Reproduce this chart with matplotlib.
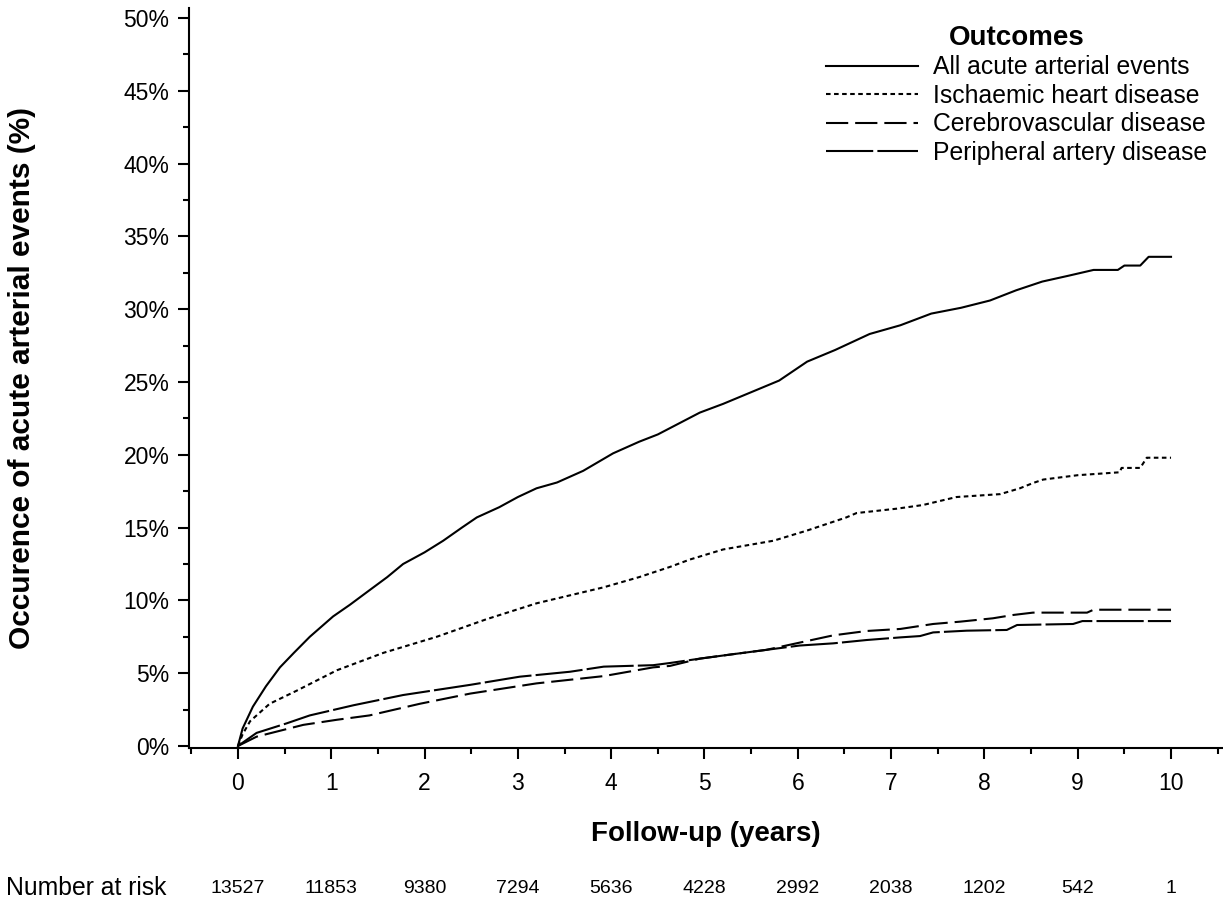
import matplotlib

matplotlib.use("Agg")
import matplotlib.pyplot as plt
from matplotlib.ticker import MultipleLocator, FuncFormatter
from matplotlib.transforms import blended_transform_factory

# Cumulative occurrence (%)
all_years = [0, 0.05, 0.16, 0.3, 0.45, 0.6, 0.77, 1.02, 1.2, 1.41, 1.6, 1.77, 2.0, 2.2,
             2.4, 2.56, 2.8, 3.0, 3.2, 3.42, 3.7, 4.02, 4.3, 4.5, 4.74, 4.95, 5.2, 5.5,
             5.8, 6.1, 6.4, 6.77, 7.1, 7.43, 7.75, 8.06, 8.34, 8.62, 8.9, 9.17, 9.43,
             9.5, 9.67, 9.76, 10.0]
all_pct = [0, 1.2, 2.7, 4.1, 5.4, 6.4, 7.5, 8.9, 9.7, 10.7, 11.6, 12.5, 13.3, 14.1,
           15.0, 15.7, 16.4, 17.1, 17.7, 18.1, 18.9, 20.1, 20.9, 21.4, 22.2, 22.9, 23.5,
           24.3, 25.1, 26.4, 27.2, 28.3, 28.9, 29.7, 30.1, 30.6, 31.3, 31.9, 32.3, 32.7,
           32.7, 33.0, 33.0, 33.6, 33.6]

ihd_years = [0, 0.05, 0.13, 0.34, 0.63, 1.06, 1.56, 2.13, 2.66, 3.2, 3.92, 4.3, 4.63,
             4.84, 5.2, 5.74, 6.1, 6.52, 6.63, 7.06, 7.34, 7.7, 8.17, 8.38, 8.52, 8.63,
             9.0, 9.45, 9.47, 9.67, 9.74, 10.0]
ihd_pct = [0, 0.8, 1.7, 2.9, 3.8, 5.2, 6.4, 7.5, 8.7, 9.8, 10.9, 11.6, 12.3, 12.8,
           13.5, 14.1, 14.8, 15.7, 16.0, 16.3, 16.55, 17.1, 17.3, 17.7, 18.06, 18.3,
           18.6, 18.8, 19.1, 19.1, 19.8, 19.8]

cvd_years = [0, 0.2, 0.7, 1.06, 1.41, 1.95, 2.49, 3.2, 3.92, 4.45, 4.63, 4.95, 5.3,
             5.66, 6.02, 6.38, 6.74, 7.1, 7.45, 7.74, 8.09, 8.31, 8.52, 9.1, 9.17, 10.0]
cvd_pct = [0, 0.64, 1.45, 1.8, 2.1, 2.9, 3.6, 4.3, 4.8, 5.4, 5.5, 6.0, 6.3, 6.6, 7.1,
           7.6, 7.9, 8.04, 8.38, 8.54, 8.77, 9.0, 9.16, 9.16, 9.36, 9.36]

pad_years = [0, 0.2, 0.52, 0.77, 1.24, 1.77, 2.49, 3.02, 3.56, 3.92, 4.45, 4.63, 4.95,
             5.3, 5.66, 6.02, 6.38, 6.74, 7.1, 7.31, 7.45, 7.81, 8.24, 8.35, 8.95, 9.05,
             10.0]
pad_pct = [0, 0.9, 1.55, 2.1, 2.8, 3.5, 4.2, 4.76, 5.1, 5.45, 5.55, 5.7, 6.0, 6.3, 6.6,
           6.9, 7.05, 7.28, 7.46, 7.55, 7.8, 7.92, 7.97, 8.31, 8.38, 8.58, 8.58]

risk_years = [0, 1, 2, 3, 4, 5, 6, 7, 8, 9, 10]
at_risk = ["13527", "11853", "9380", "7294", "5636", "4228", "2992", "2038", "1202",
           "542", "1"]

plt.rcParams["font.family"] = ["Liberation Sans", "DejaVu Sans"]
plt.rcParams["lines.scale_dashes"] = False

fig = plt.figure(figsize=(12.23, 9.11), dpi=100)
ax = fig.add_axes([0.1545, 0.1789, 0.8455, 0.8123])

lw = 1.5
ax.plot(all_years, all_pct, color="black", lw=lw, label="All acute arterial events")
ax.plot(ihd_years, ihd_pct, color="black", lw=lw, dashes=(3.3, 2.5),
        label="Ischaemic heart disease")
ax.plot(cvd_years, cvd_pct, color="black", lw=lw, dashes=(16, 5),
        label="Cerebrovascular disease")
ax.plot(pad_years, pad_pct, color="black", lw=lw, dashes=(34, 3),
        label="Peripheral artery disease")

ax.set_xlim(-0.525, 10.557)
ax.set_ylim(-0.14, 50.69)
ax.xaxis.set_major_locator(MultipleLocator(1))
ax.xaxis.set_minor_locator(MultipleLocator(0.5))
ax.yaxis.set_major_locator(MultipleLocator(5))
ax.yaxis.set_minor_locator(MultipleLocator(2.5))
ax.yaxis.set_major_formatter(FuncFormatter(lambda v, p: f"{v:.0f}%"))

for side in ("top", "right"):
    ax.spines[side].set_visible(False)
for side in ("left", "bottom"):
    ax.spines[side].set_linewidth(1.5)
ax.tick_params(which="major", length=8, width=1.5, labelsize=16.5, pad=6)
ax.tick_params(which="minor", length=4.3, width=1.5)
ax.tick_params(axis="x", which="major", pad=9)

ax.set_xlabel("Follow-up (years)", fontsize=20, fontweight="bold")
ax.xaxis.set_label_coords(0.5, -0.098)
ax.set_ylabel("Occurence of acute arterial events (%)", fontsize=21.5, fontweight="bold")
ax.yaxis.set_label_coords(-0.148, 0.5)

leg = ax.legend(loc="upper right", bbox_to_anchor=(1207 / 1223, 886 / 911),
                bbox_transform=fig.transFigure, frameon=False, fontsize=17.8,
                title="Outcomes", title_fontproperties={"weight": "bold", "size": 20},
                handlelength=3.74, handletextpad=0.6, labelspacing=0.18,
                borderpad=0, borderaxespad=0)

# number-at-risk row under the axis
trans = blended_transform_factory(ax.transData, fig.transFigure)
fig.text(0.005, 0.025, "Number at risk", fontsize=17.8, va="center", ha="left")
for yr, n in zip(risk_years, at_risk):
    ax.text(yr, 0.025, n, transform=trans, fontsize=14, ha="center", va="center",
            clip_on=False)

fig.savefig("out.png", dpi=100)
